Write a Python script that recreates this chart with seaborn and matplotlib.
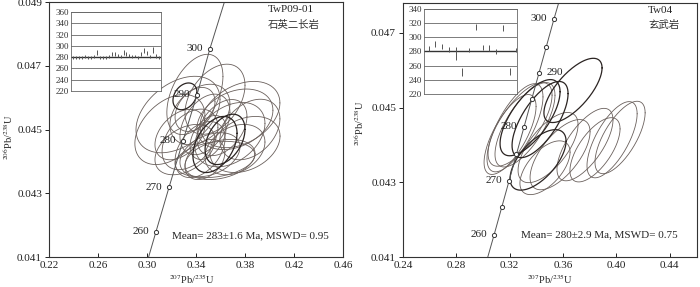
import numpy as np
import pandas as pd
import matplotlib
matplotlib.use("Agg")
import matplotlib.pyplot as plt
import seaborn as sns

# ---- concordia ----
# left panel, TwP09-01
conc_l_age = [260, 270, 280, 290, 300]
conc_l_x = [0.3073, 0.3180, 0.3294, 0.3408, 0.3514]
conc_l_y = [0.04179, 0.04319, 0.04465, 0.04609, 0.04754]
line_l_x = [0.2960, 0.3073, 0.3180, 0.3294, 0.3408, 0.3514, 0.3640]
line_l_y = [0.04030, 0.04179, 0.04319, 0.04465, 0.04609, 0.04754, 0.04910]

# right panel, Tw04
conc_r_age = [260, 265, 270, 275, 280, 285, 290, 295, 300]
conc_r_x = [0.3083, 0.3143, 0.3196, 0.3250, 0.3308, 0.3368, 0.3421, 0.3473, 0.3533]
conc_r_y = [0.04159, 0.04234, 0.04304, 0.04375, 0.04449, 0.04523, 0.04593, 0.04662, 0.04738]
line_r_x = [0.3020, 0.3083, 0.3533, 0.3600]
line_r_y = [0.04080, 0.04159, 0.04738, 0.04820]
conc_r_labeled = [260, 270, 280, 290, 300]

# ---- error ellipses: centre, half-widths, correlation ----
ell_l_cx = [0.3391, 0.3253, 0.3555, 0.3759, 0.3840, 0.3677, 0.3473, 0.3351, 0.3555, 0.3637, 0.3433,
            0.3310, 0.3514, 0.3718, 0.3392, 0.3310, 0.3596, 0.3473, 0.3800, 0.3269, 0.3612, 0.3498,
            0.3187, 0.3718, 0.3432, 0.3555]
ell_l_cy = [0.04610, 0.04547, 0.04595, 0.04547, 0.04500, 0.04484, 0.04516, 0.04469, 0.04453, 0.04469, 0.04437,
            0.04437, 0.04421, 0.04437, 0.04563, 0.04604, 0.04406, 0.04406, 0.04453, 0.04484, 0.04506, 0.04475,
            0.04500, 0.04532, 0.04547, 0.04406]
ell_l_sx = [0.0229, 0.0343, 0.0245, 0.0326, 0.0245, 0.0286, 0.0204, 0.0228, 0.0180, 0.0163, 0.0204,
            0.0245, 0.0245, 0.0245, 0.0163, 0.0098, 0.0286, 0.0163, 0.0286, 0.0204, 0.0204, 0.0147,
            0.0286, 0.0310, 0.0245, 0.0326]
ell_l_sy = [0.00126, 0.00120, 0.00110, 0.00104, 0.00095, 0.00101, 0.00095, 0.00095, 0.00088, 0.00079, 0.00088,
            0.00079, 0.00069, 0.00079, 0.00069, 0.00042, 0.00063, 0.00063, 0.00088, 0.00079, 0.00088, 0.00069,
            0.00110, 0.00095, 0.00095, 0.00057]
ell_l_rho = [0.45, 0.40, 0.40, 0.35, 0.35, 0.35, 0.40, 0.40, 0.40, 0.40, 0.40,
             0.40, 0.35, 0.30, 0.35, 0.30, 0.30, 0.35, 0.30, 0.40, 0.40, 0.40,
             0.40, 0.30, 0.35, 0.25]
ell_l_dark = [0, 0, 0, 0, 0, 0, 0, 0, 1, 1, 0, 0, 0, 0, 0, 1, 0, 0, 0, 0, 0, 0, 0, 0, 0, 0]

ell_r_cx = [0.3675, 0.3278, 0.3315, 0.3240, 0.3353, 0.3203, 0.3428, 0.3488, 0.3578, 0.3413, 0.3465,
            0.3968, 0.4028, 0.3765, 0.3840]
ell_r_cy = [0.04546, 0.04455, 0.04454, 0.04446, 0.04473, 0.04428, 0.04468, 0.04393, 0.04374, 0.04360, 0.04339,
            0.04414, 0.04420, 0.04401, 0.04387]
ell_r_sx = [0.0218, 0.0240, 0.0225, 0.0210, 0.0225, 0.0195, 0.0210, 0.0225, 0.0225, 0.0210, 0.0188,
            0.0188, 0.0188, 0.0210, 0.0188]
ell_r_sy = [0.00086, 0.00112, 0.00113, 0.00118, 0.00102, 0.00107, 0.00102, 0.00094, 0.00094, 0.00081, 0.00072,
            0.00102, 0.00097, 0.00097, 0.00086]
ell_r_rho = [0.70, 0.70, 0.70, 0.70, 0.68, 0.70, 0.68, 0.65, 0.65, 0.62, 0.58,
             0.68, 0.68, 0.68, 0.65]
ell_r_dark = [1, 0, 0, 0, 1, 0, 1, 0, 0, 1, 0, 0, 0, 0, 0]

# ---- inset age bars ----
inset_l_age = [280, 279, 280, 280, 281, 279, 280, 281, 288, 280, 279, 280, 281, 285, 286,
               283, 281, 289, 285, 283, 281, 282, 280, 285, 292, 287, 281, 293, 282, 280]
inset_l_err = [2.5, 2.5, 2.5, 2.5, 2.5, 2.5, 2.5, 2.5, 4, 2.5, 2.5, 2.5, 2.5, 3.5, 4,
               3, 2.5, 4.5, 3.5, 3, 2.5, 2.5, 2.5, 3.5, 5, 4, 2.5, 5, 3, 2.5]
inset_r_age = [284, 290.5, 287, 283, 277, 251, 282, 314, 286, 285, 280, 313, 251.5, 282]
inset_r_err = [4, 3.7, 3.7, 3.7, 9, 5, 2.5, 4.2, 3.8, 4, 4.2, 4.2, 4.7, 3]

sns.set_theme(style="ticks")
plt.rcParams["font.family"] = ["Liberation Serif", "Noto Sans CJK SC"]
plt.rcParams["mathtext.fontset"] = "stix"

LINE = "#6a605c"
DARK = "#2b2422"


def ellipse_frame(cx, cy, sx, sy, rho, dark):
    t = np.linspace(0, 2 * np.pi, 150)
    rows = []
    for i in range(len(cx)):
        x = cx[i] + sx[i] * np.cos(t)
        y = cy[i] + sy[i] * (rho[i] * np.cos(t) + np.sqrt(1 - rho[i] ** 2) * np.sin(t))
        rows.append(pd.DataFrame({"x": x, "y": y, "id": i, "dark": dark[i]}))
    return pd.concat(rows, ignore_index=True)


def draw_panel(ax, df, lx, ly, mx, my, ages, labeled, right_labels):
    for flag, col, lw in [(0, LINE, 0.6), (1, DARK, 0.9)]:
        sub = df[df["dark"] == flag]
        sns.lineplot(data=sub, x="x", y="y", units="id", estimator=None, sort=False,
                     color=col, lw=lw, ax=ax, legend=False)
    sns.lineplot(x=lx, y=ly, sort=False, estimator=None, color="#555555", lw=0.7, ax=ax)
    sns.scatterplot(x=mx, y=my, marker="o", s=9, facecolor="white", edgecolor="#333333",
                    linewidth=0.7, zorder=5, ax=ax)
    for a, x, y in zip(ages, mx, my):
        if a in labeled:
            if a in right_labels:
                ax.annotate(str(a), (x, y), xytext=(5, 0), textcoords="offset points",
                            ha="left", va="center", fontsize=8, color="#222222")
            else:
                ax.annotate(str(a), (x, y), xytext=(-5, 0), textcoords="offset points",
                            ha="right", va="center", fontsize=8, color="#222222")


def style_axes(ax, xlim, ylim, xticks, yticks):
    ax.set_xlim(*xlim)
    ax.set_ylim(*ylim)
    ax.set_xticks(xticks)
    ax.set_xticklabels([f"{v:.2f}" for v in xticks])
    ax.set_yticks(yticks)
    ax.set_yticklabels([f"{v:.3f}" for v in yticks])
    ax.tick_params(axis="x", direction="in", length=3, width=0.7, labelsize=8, pad=3, colors="#222222")
    ax.tick_params(axis="y", direction="out", length=3, width=0.7, labelsize=8, pad=2, colors="#222222")
    for s in ax.spines.values():
        s.set_visible(True)
        s.set_linewidth(0.8)
        s.set_color("#333333")
    ax.set_xlabel(r"$^{207}$Pb/$^{235}$U", fontsize=7.5)
    ax.set_ylabel(r"$^{206}$Pb/$^{238}$U", fontsize=7.5)


def inset(fig, rect, ages, errs, ylim, yticks, xlim):
    ia = fig.add_axes(rect)
    xs = np.arange(1, len(ages) + 1)
    a = np.array(ages)
    e = np.array(errs)
    for v in yticks:
        ia.axhline(v, color="#666666", lw=0.6, zorder=1)
    ia.axhline(280, color="#333333", lw=1.0, zorder=2)
    ia.vlines(xs, a - e, a + e, color="#555555", lw=0.7, zorder=3)
    ia.set_xlim(*xlim)
    ia.set_ylim(*ylim)
    ia.set_xticks([])
    ia.set_yticks(yticks)
    ia.set_yticklabels([str(v) for v in yticks])
    ia.tick_params(axis="y", length=0, labelsize=6.5, pad=1.5, colors="#333333")
    for s in ia.spines.values():
        s.set_linewidth(0.6)
        s.set_color("#666666")
    ia.set_facecolor("white")


fig = plt.figure(figsize=(7, 2.87), dpi=100)

# left panel
axl = fig.add_axes([0.07, 0.1045, 0.42, 0.8885])
dfl = ellipse_frame(ell_l_cx, ell_l_cy, ell_l_sx, ell_l_sy, ell_l_rho, ell_l_dark)
draw_panel(axl, dfl, line_l_x, line_l_y, conc_l_x, conc_l_y, conc_l_age, conc_l_age, [])
style_axes(axl, (0.22, 0.46), (0.041, 0.049),
           [0.22, 0.26, 0.30, 0.34, 0.38, 0.42, 0.46],
           [0.041, 0.043, 0.045, 0.047, 0.049])
axl.yaxis.set_label_coords(-0.116, 0.47)
axl.xaxis.set_label_coords(0.486, -0.062)
axl.text(0.745, 0.969, "TwP09-01", transform=axl.transAxes, fontsize=8, va="center", ha="left")
axl.text(0.745, 0.91, "石英二长岩", transform=axl.transAxes, fontsize=7.5, va="center", ha="left",
         color="#333333")
axl.text(0.418, 0.083, "Mean= 283±1.6 Ma, MSWD= 0.95", transform=axl.transAxes, fontsize=8,
         va="center", ha="left")

# right panel
axr = fig.add_axes([0.5757, 0.1045, 0.42, 0.885])
dfr = ellipse_frame(ell_r_cx, ell_r_cy, ell_r_sx, ell_r_sy, ell_r_rho, ell_r_dark)
draw_panel(axr, dfr, line_r_x, line_r_y, conc_r_x, conc_r_y, conc_r_age, conc_r_labeled, [290])
style_axes(axr, (0.24, 0.4605), (0.041, 0.0478),
           [0.24, 0.28, 0.32, 0.36, 0.40, 0.44],
           [0.041, 0.043, 0.045, 0.047])
axr.yaxis.set_label_coords(-0.126, 0.53)
axr.xaxis.set_label_coords(0.5, -0.062)
axr.text(0.833, 0.972, "Tw04", transform=axr.transAxes, fontsize=8, va="center", ha="left")
axr.text(0.833, 0.913, "玄武岩", transform=axr.transAxes, fontsize=7.5, va="center", ha="left",
         color="#333333")
axr.text(0.401, 0.087, "Mean= 280±2.9 Ma, MSWD= 0.75", transform=axr.transAxes, fontsize=8,
         va="center", ha="left")

# insets
inset(fig, [71 / 700, 1 - 91 / 287, 90 / 700, 79 / 287], inset_l_age, inset_l_err,
      (220, 360), [220, 240, 260, 280, 300, 320, 340, 360], (0.2, 30.7))
inset(fig, [424 / 700, 1 - 94 / 287, 93 / 700, 85 / 287], inset_r_age, inset_r_err,
      (220, 340), [220, 240, 260, 280, 300, 320, 340], (0.3, 14.1))

fig.savefig("out.png", dpi=100)
